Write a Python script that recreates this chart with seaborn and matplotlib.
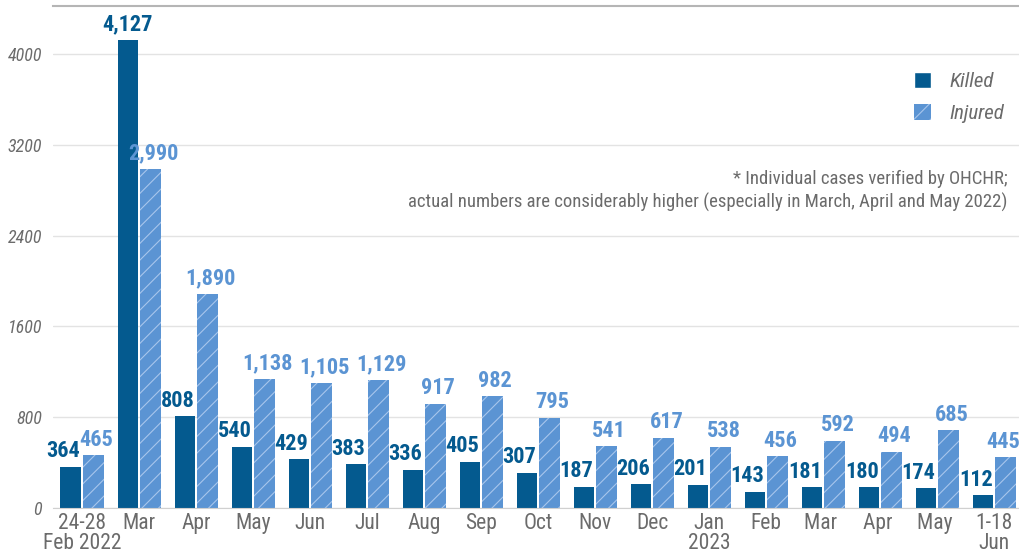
import matplotlib
matplotlib.use("Agg")
import matplotlib.pyplot as plt
from matplotlib import font_manager
import seaborn as sns
import pandas as pd
from matplotlib.patches import Patch

# Monthly civilian casualties (verified cases)
MONTHS = ['24-28\nFeb 2022', 'Mar', 'Apr', 'May', 'Jun', 'Jul', 'Aug', 'Sep', 'Oct',
          'Nov', 'Dec', 'Jan\n2023', 'Feb', 'Mar ', 'Apr ', 'May ', '1-18\nJun']
KILLED = [364, 4127, 808, 540, 429, 383, 336, 405, 307, 187, 206, 201, 143, 181, 180, 174, 112]
INJURED = [465, 2990, 1890, 1138, 1105, 1129, 917, 982, 795, 541, 617, 538, 456, 592, 494, 685, 445]
Y_TICKS = [0, 800, 1600, 2400, 3200, 4000]

DARK = '#045a8f'
LIGHT = '#5b94d3'
HATCH = '#a8c6ec'
GREY = '#6b6b6b'

# pick a narrow face if one is around, the original uses a condensed font
installed = {f.name for f in font_manager.fontManager.ttflist}
narrow = [f for f in ['Roboto Condensed', 'Liberation Sans Narrow', 'DejaVu Sans Condensed']
          if f in installed]
FAMILY = narrow + ['Roboto', 'DejaVu Sans']

sns.set_style('white')
plt.rcParams['font.family'] = FAMILY
plt.rcParams['hatch.linewidth'] = 0.8

df = pd.DataFrame({
    'month': MONTHS * 2,
    'value': KILLED + INJURED,
    'kind': ['Killed'] * len(MONTHS) + ['Injured'] * len(MONTHS),
})

fig = plt.figure(figsize=(10.2, 5.58), dpi=100)
ax = fig.add_axes([0.052, 0.09, 0.948, 0.9])

sns.barplot(data=df, x='month', y='value', hue='kind', order=MONTHS,
            palette={'Killed': DARK, 'Injured': LIGHT}, width=0.79, gap=0.08,
            saturation=1, ax=ax, legend=False, linewidth=0)

n = len(MONTHS)
for bar in ax.patches[n:2 * n]:
    # hatch takes the edge colour; keep the edge itself invisible
    bar.set_edgecolor(HATCH)
    bar.set_linewidth(0)
    bar.set_hatch('//')

lab_size = 16 if narrow else 13
for bar, v, w in zip(ax.patches[:n], KILLED, INJURED):
    shift = 0 if v > w + 400 else -0.13
    ax.text(bar.get_x() + bar.get_width() / 2 + shift, v + 40, f'{v:,}', ha='center',
            va='bottom', color=DARK, fontsize=lab_size, fontweight='bold')
for i, (bar, v) in enumerate(zip(ax.patches[n:2 * n], INJURED)):
    shift = 0.05 if i < n - 1 else -0.04
    ax.text(bar.get_x() + bar.get_width() / 2 + shift, v + 40, f'{v:,}', ha='center',
            va='bottom', color=LIGHT, fontsize=lab_size, fontweight='bold')

ax.set_ylim(0, 4430)
ax.set_xlim(-0.51, n - 0.55)
ax.set_yticks(Y_TICKS)
ax.set_yticklabels([str(t) for t in Y_TICKS], fontstyle='italic', color=GREY, fontsize=13)
ax.tick_params(axis='x', colors=GREY, labelsize=15.5 if narrow else 13, length=0, pad=4)
ax.tick_params(axis='y', length=0, pad=8)
for lab in ax.get_xticklabels():
    lab.set_linespacing(0.9)
ax.set_xlabel('')
ax.set_ylabel('')
ax.yaxis.grid(True, color='#e3e3e3', linewidth=1)
ax.set_axisbelow(True)
for side in ['left', 'right']:
    ax.spines[side].set_visible(False)
ax.spines['bottom'].set_color('#d0d0d0')
ax.spines['top'].set_color('#b5b5b5')
ax.spines['top'].set_linewidth(1.5)

handles = [Patch(facecolor=DARK, label='Killed'),
           Patch(facecolor=LIGHT, edgecolor=HATCH, linewidth=0, hatch='//', label='Injured')]
leg = ax.legend(handles=handles, loc='upper right', bbox_to_anchor=(1.003, 0.905), frameon=False,
                prop={'size': 15, 'style': 'italic'}, handlelength=0.8, handleheight=0.8,
                labelspacing=0.6, handletextpad=0.9)
for t in leg.get_texts():
    t.set_color(GREY)

ax.text(0.987, 0.672, '* Individual cases verified by OHCHR;\n'
        'actual numbers are considerably higher (especially in March, April and May 2022)',
        transform=ax.transAxes, ha='right', va='top', color=GREY, fontsize=13.5, linespacing=1.3)

fig.savefig('out.png', dpi=100)
